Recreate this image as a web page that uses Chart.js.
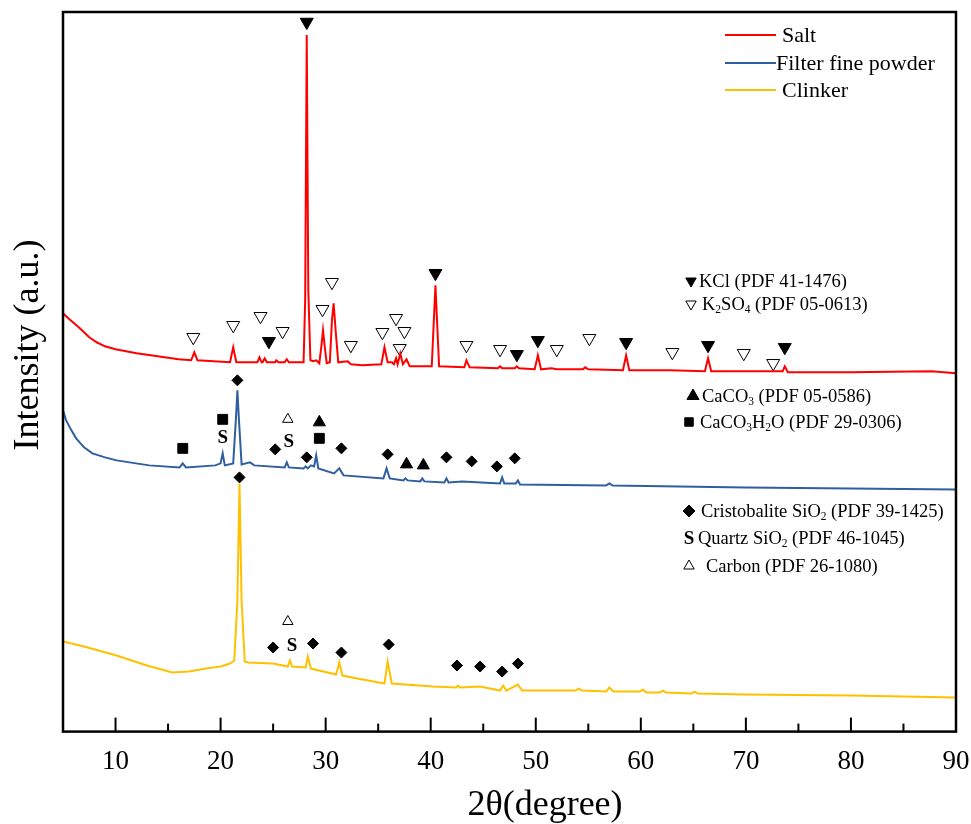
<!DOCTYPE html>
<html>
<head>
<meta charset="utf-8">
<script src="https://cdn.jsdelivr.net/npm/chart.js@4.4.0/dist/chart.umd.min.js"></script>
<style>
  body { margin: 0; background: #fff; }
  canvas { display: block; }
</style>
</head>
<body>
<canvas id="xrdChart" width="971" height="824"></canvas>
<script>
// 2-theta positions and intensities (a.u.)
var saltX = [5, 5.5, 6.5, 7.5, 8.2, 9, 10, 12, 14, 16, 17.2, 17.5, 17.8, 20.9, 21.2, 21.5, 23.5, 23.7, 23.9, 24.0, 24.2, 24.4,
  25.2, 25.3, 25.5, 26.1, 26.3, 26.5, 27.9, 28.05, 28.2, 28.35, 28.55, 28.8, 29.1, 29.4, 29.6, 29.75, 29.9, 30.1, 30.4, 30.6,
  30.76, 30.95, 31.2, 32.1, 32.4, 33.5, 35.3, 35.6, 35.9, 36.3, 36.5, 36.7, 36.85, 37.1, 37.35, 37.7, 38.0, 40.1, 40.3, 40.45,
  40.6, 40.8, 43.2, 43.4, 43.7, 46.4, 46.6, 46.8, 48.0, 48.2, 48.4, 49.9, 50.2, 50.5, 51.5, 52, 54.5, 54.7, 55, 58.3, 58.6,
  58.9, 62.8, 66.1, 66.4, 66.7, 69.4, 73.5, 73.7, 74.0, 80, 87.7, 90];
var saltY = [418, 413, 404, 394, 389, 385, 382, 378, 375, 372, 371, 379, 371, 369, 384, 369, 369, 374, 369, 369, 373, 369,
  369, 371, 369, 369, 372, 369, 369, 431, 696, 441, 371, 370, 371, 368, 386, 401, 386, 368, 369, 411,
  428, 401, 369, 370, 367, 366, 367, 384, 369, 369, 367, 373, 367, 378, 367, 372, 365, 365, 411, 446,
  411, 365, 364, 371, 364, 363, 365, 363, 363, 365, 363, 362, 376, 362, 363, 362, 362, 364, 362, 361, 376,
  361, 361, 360, 373, 360, 360, 360, 365, 359, 359, 360, 358];

var filterX = [5, 5.3, 5.8, 6.25, 7, 7.8, 9, 10.1, 13.2, 16.1, 16.4, 16.7, 19.5, 20.0, 20.2, 20.4, 21.2, 21.45, 21.6, 21.75,
  22.0, 22.8, 23.2, 26.1, 26.3, 26.5, 27.9, 28.1, 28.3, 28.6, 28.9, 29.1, 29.3, 30.8, 31.3, 31.7, 35.5, 35.8, 36.1, 37.4,
  37.6, 37.8, 39.0, 39.2, 39.4, 41.3, 41.5, 41.7, 43.0, 46.6, 46.8, 47.0, 48.1, 48.3, 48.5, 56.7, 57.0, 57.3, 70, 90];
var filterY = [321, 311, 301, 293, 284, 278, 274, 271, 266, 264, 268, 264, 266, 268, 278, 266, 268, 311, 341, 311,
  267, 269, 266, 264, 269, 264, 263, 265, 263, 266, 265, 276, 263, 258, 263, 256, 253, 263, 253, 251,
  253, 251, 250, 253, 250, 249, 253, 249, 250, 248, 254, 248, 248, 251, 247, 246, 248, 246, 244, 242];

var clinkerX = [5, 7, 10.1, 13, 15.4, 17, 18.6, 20.0, 20.9, 21.3, 21.6, 21.8, 22.0, 22.3, 22.6, 25.0, 26.4, 26.6, 26.8,
  28.1, 28.3, 28.6, 31.0, 31.3, 31.6, 33, 35.6, 35.9, 36.3, 40.2, 42.4, 42.6, 42.8, 44.7, 46.6, 46.9, 47.2, 48.3, 48.7,
  53.8, 54.1, 54.4, 56.7, 57.0, 57.4, 59.9, 60.2, 60.5, 61.8, 62.1, 62.4, 64.8, 65.1, 65.4, 70, 80, 90];
var clinkerY = [90, 85, 76, 66, 59, 60, 63, 65, 68, 71, 131, 248, 131, 70, 69, 68, 65, 71, 65,
  64, 75, 63, 57, 69, 56, 53, 48, 70, 48, 45, 44, 46, 44, 45, 41, 46, 41, 47, 41,
  41, 43, 41, 40, 44, 40, 40, 42, 39, 39, 41, 39, 38, 40, 38, 37, 36, 34];

// phase markers [2theta, height]
var kclPeaks = [[24.6, 390], [28.2, 709], [40.45, 458], [48.2, 377], [50.2, 391], [58.6, 389], [66.4, 386], [73.7, 384]];
var k2so4Peaks = [[17.4, 394], [21.2, 406], [23.8, 415], [25.9, 400], [29.7, 422], [30.6, 449], [32.4, 386], [35.4, 399],
  [36.7, 413], [37.5, 400], [37.05, 383], [43.4, 386], [46.6, 382], [52.0, 382], [55.1, 393], [63.0, 379], [69.8, 378], [72.6, 368]];
var caco3Peaks = [[29.4, 309], [37.7, 267], [39.3, 266]];
var caco3h2oPeaks = [[16.4, 283], [20.2, 312], [29.4, 293]];
var cristobalitePeaks = [[21.6, 351], [25.2, 282], [28.2, 274], [31.5, 283], [35.9, 277], [41.5, 274], [43.9, 270], [46.3, 265], [48.0, 273],
  [21.8, 254], [25.0, 84], [28.8, 88], [31.5, 79], [36.0, 87], [42.5, 66], [44.7, 65], [46.8, 60], [48.3, 68]];
var quartzPeaks = [[20.2, 293], [26.5, 289], [26.8, 85]];
var carbonPeaks = [[26.4, 312], [26.4, 110]];

var majorTicks = [10, 20, 30, 40, 50, 60, 70, 80, 90];
var minorTicks = [15, 25, 35, 45, 55, 65, 75, 85];

var seriesNames = ['Salt', 'Filter fine powder', 'Clinker'];
var seriesColors = ['#ff0000', '#2f5f9f', '#ffc000'];

var SERIF = '"Liberation Serif", "Times New Roman", serif';

function pts(xs, ys) {
    return xs.map(function (x, i) { return { x: x, y: ys[i] }; });
}
function pairs(list) {
    return list.map(function (p) { return { x: p[0], y: p[1] }; });
}
function markerSet(label, list, style, rot, r, fill) {
    return {
        type: 'scatter', label: label, data: pairs(list),
        pointStyle: style, rotation: rot, pointRadius: r, pointHoverRadius: r,
        backgroundColor: fill, borderColor: '#000', borderWidth: 1, showLine: false
    };
}

// text with "_2" style subscripts
function drawRich(ctx, str, x, y, size) {
    var i = 0;
    while (i < str.length) {
        var sub = false, ch = str[i];
        if (ch === '_') { sub = true; ch = str[i + 1]; i++; }
        ctx.font = (sub ? size * 0.62 : size) + 'px ' + SERIF;
        ctx.fillText(ch, x, sub ? y + size * 0.28 : y);
        x += ctx.measureText(ch).width;
        i++;
    }
}

var phaseKey = [
    { style: 'triangle', rot: 180, r: 6, fill: '#000', mx: 691, y: 281, tx: 699, text: 'KCl (PDF 41-1476)' },
    { style: 'triangle', rot: 180, r: 6, fill: '#fff', mx: 691, y: 304, tx: 702, text: 'K_2SO_4 (PDF 05-0613)' },
    { style: 'triangle', rot: 0, r: 7, fill: '#000', mx: 693, y: 396, tx: 702, text: 'CaCO_3 (PDF 05-0586)' },
    { style: 'rect', rot: 0, r: 6, fill: '#000', mx: 689, y: 422, tx: 700, text: 'CaCO_3H_2O (PDF 29-0306)' },
    { style: 'rectRot', rot: 0, r: 6, fill: '#000', mx: 689, y: 511, tx: 701, text: 'Cristobalite SiO_2 (PDF 39-1425)' },
    { style: 'S', mx: 689, y: 538, tx: 698, text: 'Quartz SiO_2 (PDF 46-1045)' },
    { style: 'triangle', rot: 0, r: 6, fill: '#fff', mx: 689, y: 566, tx: 706, text: 'Carbon (PDF 26-1080)' }
];

var decorations = {
    id: 'decorations',
    afterDraw: function (chart) {
        var ctx = chart.ctx, a = chart.chartArea, xs = chart.scales.x, ys = chart.scales.y;
        ctx.save();
        ctx.fillStyle = '#000';
        ctx.strokeStyle = '#000';

        // quartz "S" labels
        ctx.font = 'bold 19px ' + SERIF;
        ctx.textAlign = 'center';
        ctx.textBaseline = 'middle';
        quartzPeaks.forEach(function (p) {
            ctx.fillText('S', xs.getPixelForValue(p[0]), ys.getPixelForValue(p[1]));
        });

        // inward ticks
        ctx.lineWidth = 2;
        majorTicks.forEach(function (v) {
            var px = xs.getPixelForValue(v);
            ctx.beginPath(); ctx.moveTo(px, a.bottom); ctx.lineTo(px, a.bottom - 14); ctx.stroke();
        });
        minorTicks.forEach(function (v) {
            var px = xs.getPixelForValue(v);
            ctx.beginPath(); ctx.moveTo(px, a.bottom); ctx.lineTo(px, a.bottom - 8); ctx.stroke();
        });

        // frame
        ctx.lineWidth = 2.5;
        ctx.strokeRect(a.left, a.top, a.right - a.left, a.bottom - a.top);

        // axis titles
        ctx.font = '36px ' + SERIF;
        ctx.textAlign = 'center';
        ctx.fillText('2θ(degree)', 545, 806);
        ctx.save();
        ctx.translate(29, 345);
        ctx.rotate(-Math.PI / 2);
        ctx.fillText('Intensity (a.u.)', 0, 0);
        ctx.restore();

        // series legend
        ctx.textAlign = 'left';
        ctx.font = '22px ' + SERIF;
        var legY = [35, 63, 90], legTx = [782, 776, 782];
        seriesNames.forEach(function (name, i) {
            ctx.strokeStyle = seriesColors[i];
            ctx.lineWidth = 2;
            ctx.beginPath(); ctx.moveTo(725, legY[i]); ctx.lineTo(776, legY[i]); ctx.stroke();
            ctx.fillText(name, legTx[i], legY[i] + 1);
        });

        // phase key
        ctx.strokeStyle = '#000';
        phaseKey.forEach(function (k) {
            if (k.style === 'S') {
                ctx.font = 'bold 19px ' + SERIF;
                ctx.textAlign = 'center';
                ctx.fillText('S', k.mx, k.y + 1);
                ctx.textAlign = 'left';
            } else {
                ctx.fillStyle = k.fill;
                ctx.lineWidth = 1;
                Chart.helpers.drawPoint(ctx, { pointStyle: k.style, rotation: k.rot, radius: k.r, borderWidth: 1 }, k.mx, k.y);
                ctx.fillStyle = '#000';
            }
            drawRich(ctx, k.text, k.tx, k.y + 1, 18.5);
        });
        ctx.restore();
    }
};

var ctx = document.getElementById('xrdChart').getContext('2d');
var xrdChart = new Chart(ctx, {
    type: 'line',
    data: {
        datasets: [
            { label: seriesNames[0], data: pts(saltX, saltY), borderColor: seriesColors[0], borderWidth: 2, pointRadius: 0, tension: 0 },
            { label: seriesNames[1], data: pts(filterX, filterY), borderColor: seriesColors[1], borderWidth: 2, pointRadius: 0, tension: 0 },
            { label: seriesNames[2], data: pts(clinkerX, clinkerY), borderColor: seriesColors[2], borderWidth: 2, pointRadius: 0, tension: 0 },
            markerSet('KCl', kclPeaks, 'triangle', 180, 7.5, '#000'),
            markerSet('K2SO4', k2so4Peaks, 'triangle', 180, 7.5, '#fff'),
            markerSet('CaCO3', caco3Peaks, 'triangle', 0, 7, '#000'),
            markerSet('CaCO3H2O', caco3h2oPeaks, 'rect', 0, 7, '#000'),
            markerSet('Cristobalite', cristobalitePeaks, 'rectRot', 0, 5.5, '#000'),
            markerSet('Carbon', carbonPeaks, 'triangle', 0, 6, '#fff')
        ]
    },
    options: {
        responsive: false,
        animation: false,
        devicePixelRatio: 1,
        layout: {
            padding: { left: 63, right: 15, top: 12, bottom: 32 }
        },
        plugins: {
            legend: { display: false },
            tooltip: { enabled: false }
        },
        scales: {
            x: {
                type: 'linear',
                min: 5,
                max: 90,
                afterBuildTicks: function (scale) {
                    scale.ticks = majorTicks.map(function (v) { return { value: v }; });
                },
                afterFit: function (scale) {
                    scale.paddingLeft = 0;
                    scale.paddingRight = 0;
                },
                ticks: {
                    color: '#000',
                    padding: 14,
                    maxRotation: 0,
                    font: { family: SERIF, size: 27 }
                },
                grid: { display: false, drawTicks: false },
                border: { display: false }
            },
            y: {
                display: false,
                min: 0,
                max: 719
            }
        }
    },
    plugins: [decorations]
});
</script>
</body>
</html>
